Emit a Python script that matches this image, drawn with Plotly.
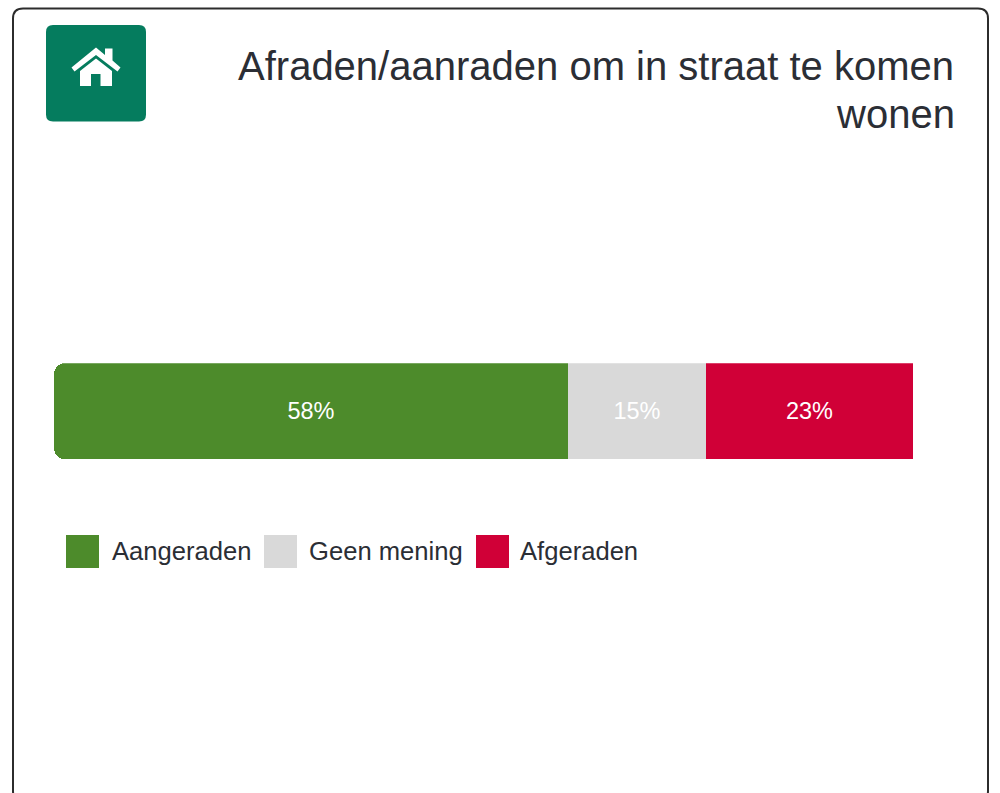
import plotly.graph_objects as go

W, H = 1000, 793
category = ["Afraden/aanraden"]
series_names = ["Aangeraden", "Geen mening", "Afgeraden"]
series_values = [57.9, 15.5, 23.3]
series_labels = ["58%", "15%", "23%"]
series_colors = ["#4d8b2b", "#d9d9d9", "#d00037"]
title_lines = ["Afraden/aanraden om in straat te komen", "wonen"]

FONT = "Liberation Sans, Arial, Helvetica, sans-serif"
INK = "#2b2e35"


def px(x):
    return x / W


def py(y):
    return 1 - y / H


def path(points, close=True):
    s = "M " + " L ".join(f"{px(x):.5f} {py(y):.5f}" for x, y in points)
    return s + (" Z" if close else "")


fig = go.Figure()

start = 0.0
for i, (name, val, label, color) in enumerate(zip(series_names, series_values, series_labels, series_colors)):
    common = dict(
        y=category, x=[val], orientation="h", name=name,
        text=[label], textposition="inside", insidetextanchor="middle",
        textangle=0, insidetextfont=dict(color="#ffffff", size=23.5, family=FONT),
        hoverinfo="name+text", showlegend=False,
    )
    if i == 0:
        # First segment grows leftwards on a reversed twin axis, so only its left end is rounded
        fig.add_trace(go.Bar(xaxis="x2", marker=dict(color=color, line=dict(width=0), cornerradius=11), **common))
    else:
        fig.add_trace(go.Bar(base=[start], marker=dict(color=color, line=dict(width=0), cornerradius=0), **common))
    start += val

shapes = []
# Card outline, open past the bottom of the window
r = 10
L, T, R, B = 13, 8.5, 988, 801
shapes.append(dict(
    type="path", xref="paper", yref="paper",
    path=(f"M {px(L)} {py(T + r)} Q {px(L)} {py(T)} {px(L + r)} {py(T)} L {px(R - r)} {py(T)} "
          f"Q {px(R)} {py(T)} {px(R)} {py(T + r)} L {px(R)} {py(B - r)} Q {px(R)} {py(B)} {px(R - r)} {py(B)} "
          f"L {px(L + r)} {py(B)} Q {px(L)} {py(B)} {px(L)} {py(B - r)} Z"),
    line=dict(color="#2c2c2c", width=2), fillcolor="rgba(0,0,0,0)", layer="below",
))
# Icon tile
r = 7
L, T, R, B = 46, 25, 146, 121.5
shapes.append(dict(
    type="path", xref="paper", yref="paper",
    path=(f"M {px(L)} {py(T + r)} Q {px(L)} {py(T)} {px(L + r)} {py(T)} L {px(R - r)} {py(T)} "
          f"Q {px(R)} {py(T)} {px(R)} {py(T + r)} L {px(R)} {py(B - r)} Q {px(R)} {py(B)} {px(R - r)} {py(B)} "
          f"L {px(L + r)} {py(B)} Q {px(L)} {py(B)} {px(L)} {py(B - r)} Z"),
    line=dict(width=0), fillcolor="#057c5e",
))
# House glyph: roof with chimney, then walls with a door
roof = [(71.5, 67.5), (96, 47.5), (105, 55), (105, 48.5), (112.5, 48.5), (112.5, 60.5), (120.5, 67.5),
        (117.5, 71.5), (96, 55), (74.5, 71.5)]
walls = [(80, 71), (96, 58.5), (112, 71), (112, 86), (100.5, 86), (100.5, 74), (91, 74), (91, 86), (80, 86)]
for pts in (roof, walls):
    shapes.append(dict(type="path", xref="paper", yref="paper", path=path(pts),
                       line=dict(width=0), fillcolor="#ffffff"))

# Legend
legend_swatch_x = [66, 264, 476]
legend_text_x = [110, 307, 518]
annotations = []
for name, color, sx, tx in zip(series_names, series_colors, legend_swatch_x, legend_text_x):
    shapes.append(dict(type="rect", xref="paper", yref="paper",
                       x0=px(sx), x1=px(sx + 33), y0=py(568), y1=py(535),
                       line=dict(width=0), fillcolor=color))
    annotations.append(dict(text=name, xref="paper", yref="paper", x=px(tx), y=py(551),
                            xanchor="left", yanchor="middle", showarrow=False,
                            font=dict(size=25.6, color=INK, family=FONT)))

# Second title line is placed on its own to keep the tight line spacing
annotations.append(dict(text=title_lines[1], xref="paper", yref="paper", x=px(957), y=py(114),
                        xanchor="right", yanchor="middle", showarrow=False,
                        font=dict(size=40, color=INK, family=FONT)))

fig.update_layout(
    width=W, height=H, margin=dict(l=0, r=0, t=0, b=0),
    paper_bgcolor="#ffffff", plot_bgcolor="rgba(0,0,0,0)",
    barmode="overlay", bargap=0, showlegend=False,
    font=dict(family=FONT, color=INK),
    title=dict(text=title_lines[0], x=px(954), xanchor="right", xref="paper",
               y=py(66), yanchor="middle", yref="container",
               font=dict(size=40, color=INK, family=FONT)),
    xaxis=dict(domain=[px(54), px(942)], range=[0, 100], visible=False, fixedrange=True),
    xaxis2=dict(overlaying="x", range=[series_values[0], series_values[0] - 100],
                visible=False, fixedrange=True),
    yaxis=dict(domain=[py(459.5), py(363.2)], visible=False, fixedrange=True),
    shapes=shapes, annotations=annotations,
)

fig.write_html("out.html", config={"displayModeBar": False},
               post_script="document.body.style.margin='0';document.body.style.overflow='hidden';")
